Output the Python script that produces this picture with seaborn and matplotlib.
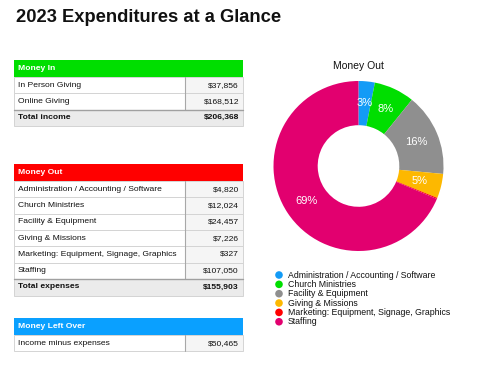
import matplotlib
matplotlib.use("Agg")
import matplotlib.pyplot as plt
import seaborn as sns
from matplotlib.patches import Rectangle

sns.set_theme(style="white")
plt.rcParams['font.family'] = ['Liberation Sans', 'DejaVu Sans']

# ---- data ----
title = "2023 Expenditures at a Glance"
in_labels = ["In Person Giving", "Online Giving"]
in_values = [37856, 168512]
out_labels = ["Administration / Accounting / Software", "Church Ministries",
              "Facility & Equipment", "Giving & Missions",
              "Marketing: Equipment, Signage, Graphics", "Staffing"]
out_values = [4820, 12024, 24457, 7226, 327, 107050]
total_income = 206368
total_expenses = 155903
left_over = 50465
out_colors = ["#139bf6", "#00de00", "#8f8f8f", "#fdb800", "#ff0000", "#e2006f"]
palette = sns.color_palette(out_colors)

W, H = 499, 373
fig = plt.figure(figsize=(W / 100, H / 100), dpi=100)
ov = fig.add_axes([0, 0, 1, 1])
ov.set_xlim(0, W)
ov.set_ylim(H, 0)
ov.axis("off")

ov.text(16, 18, title, fontsize=13.2, fontweight="bold", va="center", ha="left", color="#111111")

X0, XD, X1 = 14, 185, 243
ROW = 16.3
FS = 6.1


def money(v):
    return "${:,.0f}".format(v)


def table(y0, header, hcolor, labels, values, total=None):
    ov.add_patch(Rectangle((X0, y0), X1 - X0, 17, facecolor=hcolor, edgecolor="none"))
    ov.text(X0 + 4, y0 + 8.7, header, color="white", fontsize=FS, fontweight="bold", va="center")
    y = y0 + 17
    for lab, val in zip(labels, values):
        ov.add_patch(Rectangle((X0, y), XD - X0, ROW, facecolor="white", edgecolor="#d4d4d4", lw=0.7))
        ov.add_patch(Rectangle((XD, y), X1 - XD, ROW, facecolor="#f5f5f5", edgecolor="#d4d4d4", lw=0.7))
        ov.text(X0 + 4, y + ROW / 2, lab, fontsize=FS, va="center", color="#111111", zorder=5)
        ov.text(X1 - 4, y + ROW / 2, money(val), fontsize=FS, va="center", ha="right", color="#111111", zorder=5)
        y += ROW
    ov.plot([XD, XD], [y0 + 17, y], color="#a8a8a8", lw=0.8)
    if total is not None:
        tl, tv = total
        ov.add_patch(Rectangle((X0, y), X1 - X0, ROW + 0.5, facecolor="#ebebeb", edgecolor="#d4d4d4", lw=0.7))
        ov.plot([X0, X1], [y, y], color="#a0a0a0", lw=1.0)
        ov.text(X0 + 4, y + ROW / 2, tl, fontsize=FS, fontweight="bold", va="center", color="#111111", zorder=5)
        ov.text(X1 - 4, y + ROW / 2, money(tv), fontsize=FS, fontweight="bold", va="center", ha="right",
                color="#111111", zorder=5)


table(60, "Money In", "#00de00", in_labels, in_values, ("Total income", total_income))
table(164, "Money Out", "#ff0000", out_labels, out_values, ("Total expenses", total_expenses))
table(318, "Money Left Over", "#0aa0ff", ["Income minus expenses"], [left_over])

# ---- donut ----
cx, cy, R = 358.5, 166, 85
half = 90
pax = fig.add_axes([(cx - half) / W, (H - cy - half) / H, 2 * half / W, 2 * half / H])


def pct(p):
    return "{:.0f}%".format(p) if p >= 1 else ""


wedges, texts, autotexts = pax.pie(out_values, colors=palette, startangle=90, counterclock=False,
                                   radius=1, wedgeprops=dict(width=0.52, edgecolor="none"),
                                   autopct=pct, pctdistance=0.74,
                                   textprops=dict(color="white", fontsize=8))
pax.set_xlim(-half / R, half / R)
pax.set_ylim(-half / R, half / R)
pax.set_aspect("equal")
pax.axis("off")

ov.text(cx, 66, "Money Out", fontsize=7.5, ha="center", va="center", color="#111111")

# ---- legend ----
for i, (lab, col) in enumerate(zip(out_labels, palette)):
    y = 275 + i * 9.35
    ov.scatter([279], [y], s=30, color=col, edgecolor="none")
    ov.text(288, y, lab, fontsize=6.3, va="center", color="#111111")

fig.savefig("out.png", dpi=100)
